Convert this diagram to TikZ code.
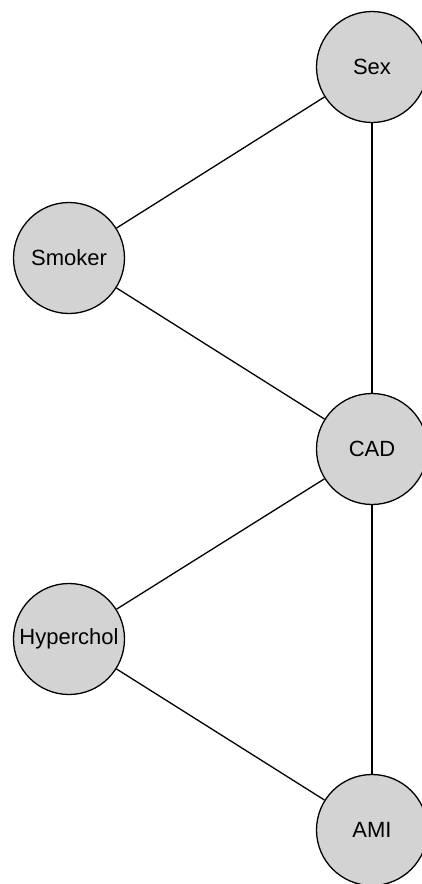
\documentclass[tikz,border=0pt]{standalone}
\usepackage{fontspec}
\setmainfont{Liberation Sans}
\definecolor{nodefill}{RGB}{211,211,211}
\begin{document}
\begin{tikzpicture}[x=1pt,y=-1pt,
  var/.style={circle,draw=black,fill=nodefill,line width=1.3pt,minimum size=111pt,inner sep=0pt,font=\fontsize{22}{25}\selectfont},
  edge/.style={draw=black,line width=1.3pt}]
\useasboundingbox (0,0) rectangle (422,884);
\node[var] (sex) at (372,67) {Sex};
\node[var] (smoker) at (69,258) {Smoker};
\node[var] (cad) at (372,449) {CAD};
\node[var] (hyper) at (69,639) {Hyperchol};
\node[var] (ami) at (372,830) {AMI};
\draw[edge] (sex) -- (smoker);
\draw[edge] (sex) -- (cad);
\draw[edge] (smoker) -- (cad);
\draw[edge] (cad) -- (hyper);
\draw[edge] (cad) -- (ami);
\draw[edge] (hyper) -- (ami);
\end{tikzpicture}
\end{document}
